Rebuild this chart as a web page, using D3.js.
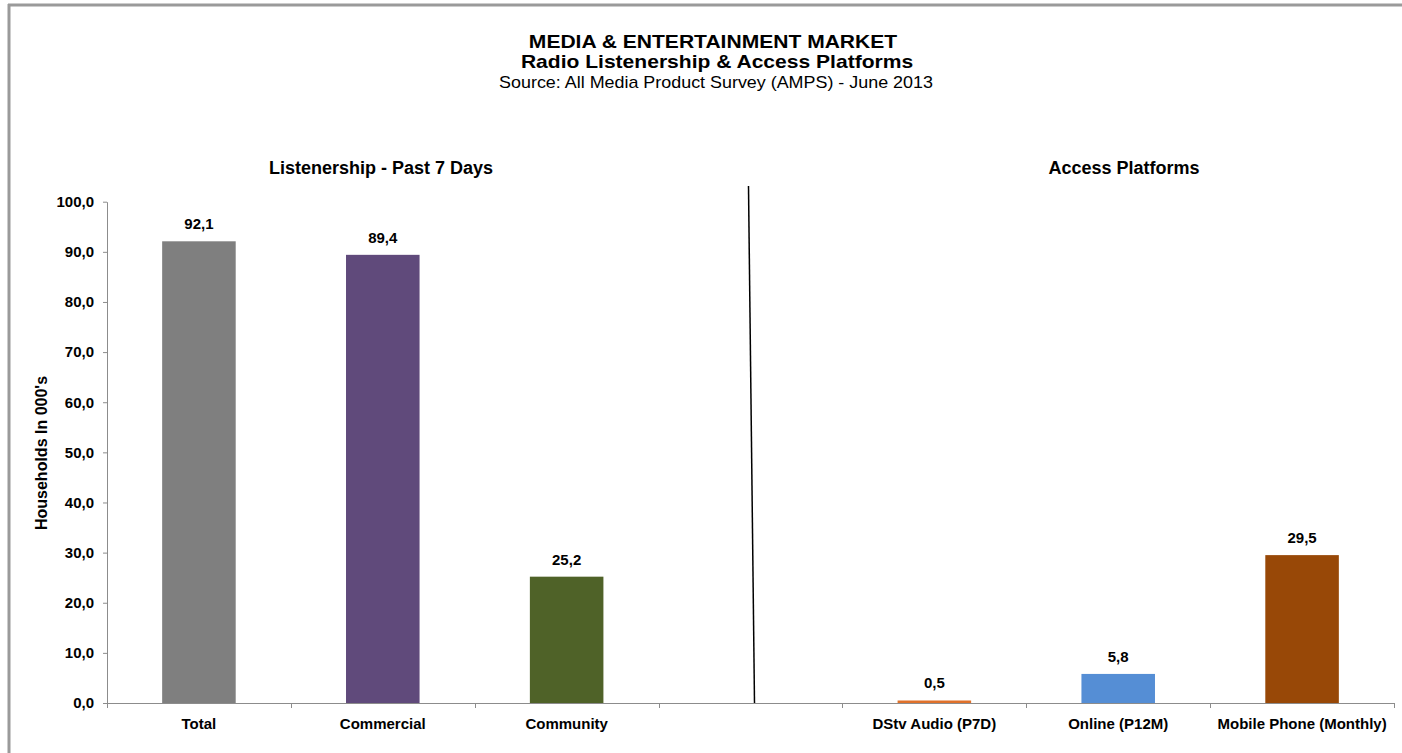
<!DOCTYPE html>
<html>
<head>
<meta charset="utf-8">
<script src="https://cdn.jsdelivr.net/npm/d3@7"></script>
<style>
  html, body { margin: 0; padding: 0; background: #fff; }
  svg { display: block; font-family: "Liberation Sans", Arial, sans-serif; }
</style>
</head>
<body>
<svg id="chart" width="1402" height="753"></svg>
<script>
// Category slots along the x axis; the empty slot separates the two panels
const categories = ["Total", "Commercial", "Community", "", "DStv Audio (P7D)", "Online (P12M)", "Mobile Phone (Monthly)"];
const slotKeys = ["total", "commercial", "community", "gap", "dstv", "online", "mobile"];
const values = [92.1, 89.4, 25.2, null, 0.5, 5.8, 29.5];
const barColors = ["#7f7f7f", "#604a7b", "#4f6228", null, "#e0712a", "#558ed5", "#984807"];
const yTicks = [0, 10, 20, 30, 40, 50, 60, 70, 80, 90, 100];

const titleLines = [
  "MEDIA & ENTERTAINMENT MARKET",
  "Radio Listenership & Access Platforms",
  "Source: All Media Product Survey (AMPS) - June 2013"
];
const panelTitles = ["Listenership - Past 7 Days", "Access Platforms"];
const yAxisTitle = "Households In 000's";

const fmt = d => d3.format(".1f")(d).replace(".", ",");

const svg = d3.select("#chart");

// outer frame (top and left edges)
svg.append("line").attr("x1", 8).attr("x2", 1402).attr("y1", 5).attr("y2", 5)
  .attr("stroke", "#9a9a9a").attr("stroke-width", 3);
svg.append("line").attr("x1", 9).attr("x2", 9).attr("y1", 4).attr("y2", 753)
  .attr("stroke", "#9a9a9a").attr("stroke-width", 3);

const plot = { left: 107, right: 1394, top: 201.7, bottom: 703 };

const x = d3.scaleBand()
  .domain(slotKeys)
  .range([plot.left, plot.right])
  .paddingInner(0.6)
  .paddingOuter(0.3);

const y = d3.scaleLinear()
  .domain([0, 100])
  .range([plot.bottom, plot.top]);

// y axis
const yAxis = svg.append("g")
  .attr("transform", `translate(${plot.left},0)`)
  .call(d3.axisLeft(y).tickValues(yTicks).tickFormat(fmt).tickSize(4).tickSizeOuter(0).tickPadding(9));
yAxis.select(".domain").attr("stroke", "#8c8c8c");
yAxis.selectAll(".tick line").attr("stroke", "#8c8c8c");
yAxis.selectAll(".tick text")
  .attr("font-size", 15).attr("font-weight", "bold").attr("fill", "#000")
  .attr("font-family", "Liberation Sans, Arial, sans-serif");

// bars
const bars = categories.map((c, i) => ({ key: slotKeys[i], label: c, value: values[i], color: barColors[i] }))
  .filter(d => d.value !== null);

svg.append("g").selectAll("rect")
  .data(bars)
  .join("rect")
  .attr("x", d => x(d.key))
  .attr("width", x.bandwidth())
  .attr("y", d => y(d.value))
  .attr("height", d => y(0) - y(d.value))
  .attr("fill", d => d.color);

// x axis line with tick marks on slot boundaries
const step = x.step();
const boundaries = slotKeys.map(k => x(k) - step * x.paddingInner() / 2).concat([plot.right]);
svg.append("line")
  .attr("x1", plot.left).attr("x2", plot.right)
  .attr("y1", y(0) + 0.5).attr("y2", y(0) + 0.5)
  .attr("stroke", "#8c8c8c");
svg.append("g").selectAll("line")
  .data(boundaries)
  .join("line")
  .attr("x1", d => Math.round(d) + 0.5).attr("x2", d => Math.round(d) + 0.5)
  .attr("y1", y(0)).attr("y2", y(0) + 5)
  .attr("stroke", "#8c8c8c");

// category labels
svg.append("g").selectAll("text")
  .data(categories.map((c, i) => ({ key: slotKeys[i], label: c })).filter(d => d.label))
  .join("text")
  .attr("x", d => x(d.key) + x.bandwidth() / 2)
  .attr("y", 729)
  .attr("text-anchor", "middle")
  .attr("font-size", 15).attr("font-weight", "bold")
  .text(d => d.label);

// value labels
svg.append("g").selectAll("text")
  .data(bars)
  .join("text")
  .attr("x", d => x(d.key) + x.bandwidth() / 2)
  .attr("y", d => y(d.value) - 12)
  .attr("text-anchor", "middle")
  .attr("font-size", 15).attr("font-weight", "bold")
  .text(d => fmt(d.value));

// divider between the two panels
svg.append("line")
  .attr("x1", 748.5).attr("y1", 186)
  .attr("x2", 754.5).attr("y2", y(0))
  .attr("stroke", "#000").attr("stroke-width", 1.5);

// titles: slightly widened lettering so the three lines stay compact
const titleG = svg.append("g").attr("text-anchor", "middle");
titleG.append("text").attr("transform", "translate(713,48) scale(1.17,1)")
  .attr("font-size", 18).attr("font-weight", "bold").text(titleLines[0]);
titleG.append("text").attr("transform", "translate(717,68) scale(1.17,1)")
  .attr("font-size", 18).attr("font-weight", "bold").text(titleLines[1]);
titleG.append("text").attr("transform", "translate(716,88) scale(1.12,1)")
  .attr("font-size", 16).text(titleLines[2]);

svg.append("text").attr("x", 381).attr("y", 174).attr("text-anchor", "middle")
  .attr("font-size", 18).attr("font-weight", "bold").text(panelTitles[0]);
svg.append("text").attr("x", 1124).attr("y", 174).attr("text-anchor", "middle")
  .attr("font-size", 18).attr("font-weight", "bold").text(panelTitles[1]);

// y axis title
svg.append("text")
  .attr("transform", "translate(47,453) rotate(-90)")
  .attr("text-anchor", "middle")
  .attr("font-size", 16).attr("font-weight", "bold")
  .text(yAxisTitle);
</script>
</body>
</html>
